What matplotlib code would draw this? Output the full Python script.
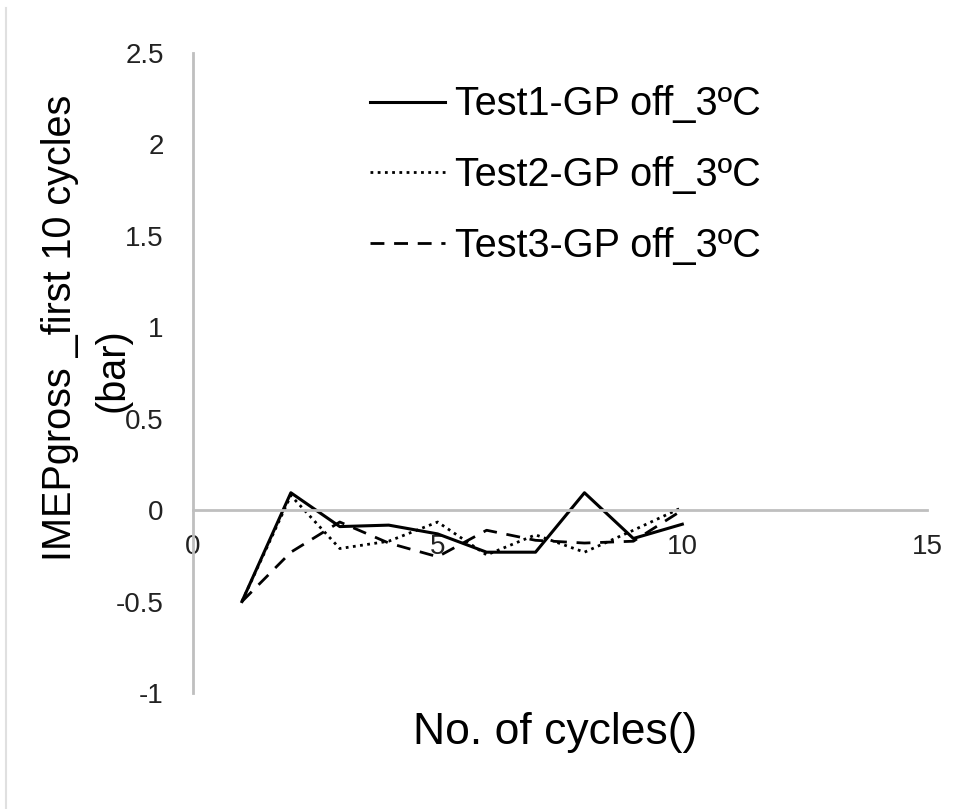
import matplotlib
matplotlib.use("Agg")
import matplotlib.pyplot as plt
from matplotlib.lines import Line2D

plt.rcParams['font.family'] = ['Liberation Sans', 'DejaVu Sans']

cycles = [1, 2, 3, 4, 5, 6, 7, 8, 9, 10]
test1 = [-0.50, 0.095, -0.09, -0.082, -0.13, -0.23, -0.23, 0.095, -0.155, -0.077]
test2 = [-0.50, 0.08, -0.21, -0.17, -0.065, -0.245, -0.135, -0.23, -0.11, 0.015]
test3 = [-0.50, -0.23, -0.065, -0.18, -0.255, -0.11, -0.165, -0.18, -0.17, 0.0]
labels = ['Test1-GP off_3ºC', 'Test2-GP off_3ºC', 'Test3-GP off_3ºC']
xticks = [0, 5, 10, 15]
yticks = [-1, -0.5, 0, 0.5, 1, 1.5, 2, 2.5]
ytick_labels = ['-1', '-0.5', '0', '0.5', '1', '1.5', '2', '2.5']

fig = plt.figure(figsize=(9.65, 8.09), dpi=100)
ax = fig.add_axes([0.2, 0.1434, 0.7606, 0.7911])

l1, = ax.plot(cycles, test1, color='black', lw=2.2, linestyle='-')
l2, = ax.plot(cycles, test2, color='black', lw=2.0, linestyle=(0, (1, 1.6)))
l3, = ax.plot(cycles, test3, color='black', lw=2.0, linestyle=(0, (5, 3.5)))

ax.set_xlim(0, 15)
ax.set_ylim(-1, 2.5)
ax.set_xticks(xticks)
ax.set_yticks(yticks)
ax.set_yticklabels(ytick_labels)

for s in ['top', 'right']:
    ax.spines[s].set_visible(False)
ax.spines['bottom'].set_position(('data', 0))
ax.spines['left'].set_position(('data', 0))
for s in ['bottom', 'left']:
    ax.spines[s].set_color('#bfbfbf')
    ax.spines[s].set_linewidth(2)

ax.tick_params(axis='both', length=0, labelsize=20, colors='#222222')
ax.tick_params(axis='x', pad=17)
ax.tick_params(axis='y', pad=21)

fig.text(0.575, 0.095, 'No. of cycles()', fontsize=32, ha='center', va='center')
fig.text(0.062, 0.595, 'IMEPgross _first 10 cycles', fontsize=28.5, rotation=90,
         ha='center', va='center')
fig.text(0.117, 0.543, '(bar)', fontsize=28.5, rotation=90, ha='center', va='center')

fig.legend([l1, l2, l3], labels, loc='upper left', bbox_to_anchor=(0.367, 0.914),
           frameon=False, fontsize=28.5, handlelength=1.9, handletextpad=0.25,
           labelspacing=0.83, borderaxespad=0)

fig.add_artist(Line2D([0.006, 0.006], [0.0, 0.99], transform=fig.transFigure,
                      color='#e0e0e0', lw=1.5))

fig.savefig('out.png', dpi=100, facecolor='white')
